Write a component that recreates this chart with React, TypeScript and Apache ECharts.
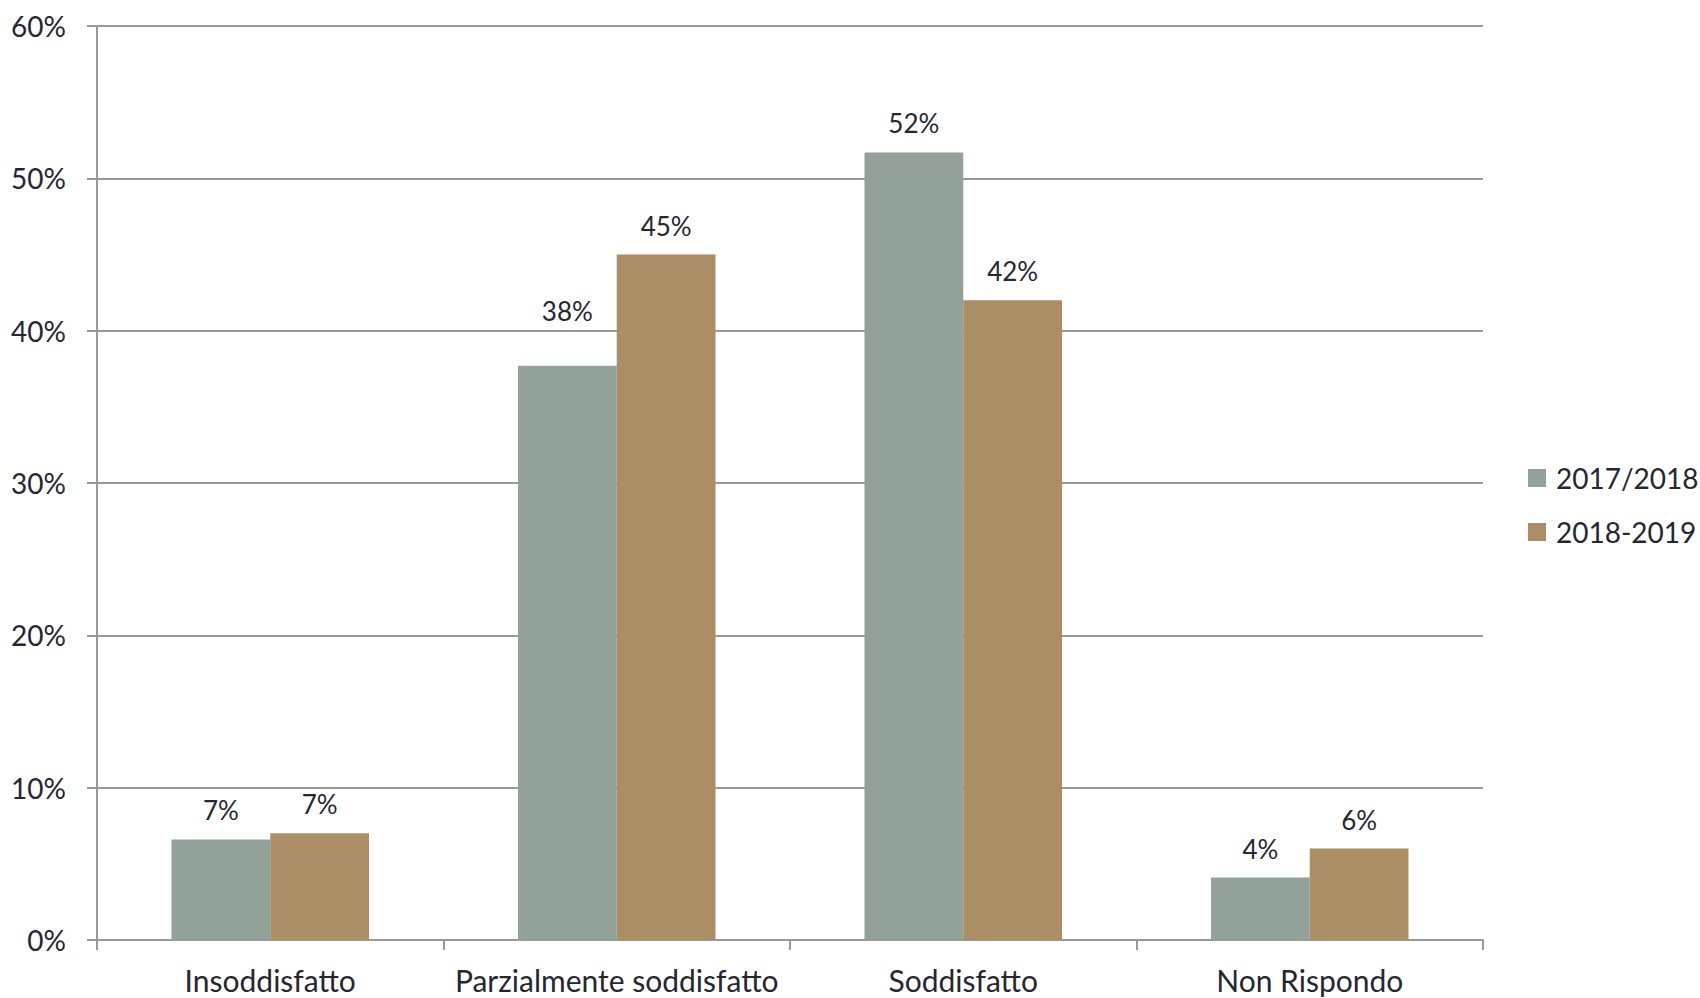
import React, { useEffect, useRef } from "react";
import * as echarts from "echarts";

const categories = ["Insoddisfatto", "Parzialmente soddisfatto", "Soddisfatto", "Non Rispondo"];
const seriesNames = ["2017/2018", "2018-2019"];
const values2017 = [6.6, 37.7, 51.7, 4.1];
const values2018 = [7.0, 45.0, 42.0, 6.0];
const colors = ["#92a299", "#ab8d66"];
const yTicks = [0, 10, 20, 30, 40, 50, 60];

const FONT = "Lato";
const TEXT = "#262631";

export default function App() {
  const ref = useRef<HTMLDivElement>(null);
  useEffect(() => {
    if (!ref.current) return;
    const chart = echarts.init(ref.current, null, { renderer: "svg" });
    const label = {
      show: true,
      position: "top",
      distance: 16,
      fontFamily: FONT,
      fontSize: 26,
      color: TEXT,
      formatter: (p: any) => `${Math.round(p.value)}%`,
    };
    // Excel lifted the "38%" label above the neighbouring bar's label line
    const data2017 = values2017.map((v, i) =>
      i === 1 ? { value: v, label: { distance: 42 } } : v
    );
    chart.setOption({
      animation: false,
      textStyle: { fontFamily: FONT },
      grid: { left: 97, right: 217, top: 26, bottom: 58, containLabel: false },
      legend: {
        orient: "vertical",
        left: 1523,
        top: 459,
        itemWidth: 18,
        itemHeight: 18,
        itemGap: 26,
        icon: "rect",
        textStyle: { fontFamily: FONT, fontSize: 28, color: TEXT, padding: [0, 0, 0, 5] },
        data: seriesNames,
      },
      xAxis: {
        type: "category",
        data: categories,
        axisLine: { show: true, lineStyle: { color: "#999999", width: 2 } },
        axisTick: { show: true, length: 10, lineStyle: { color: "#999999", width: 2 } },
        axisLabel: { interval: 0, margin: 25, fontFamily: FONT, fontSize: 30, color: TEXT },
      },
      yAxis: {
        type: "value",
        min: yTicks[0],
        max: yTicks[yTicks.length - 1],
        interval: 10,
        axisLine: { show: true, lineStyle: { color: "#999999", width: 2 } },
        axisTick: { show: true, length: 10, lineStyle: { color: "#999999", width: 2 } },
        splitLine: { show: true, lineStyle: { color: "#999999", width: 2 } },
        axisLabel: {
          margin: 31,
          fontFamily: FONT,
          fontSize: 28,
          color: TEXT,
          formatter: (v: number) => `${v}%`,
        },
      },
      series: [
        {
          name: seriesNames[0],
          type: "bar",
          data: data2017,
          itemStyle: { color: colors[0] },
          barGap: "0%",
          barCategoryGap: "43%",
          label,
        },
        {
          name: seriesNames[1],
          type: "bar",
          data: values2018,
          itemStyle: { color: colors[1] },
          barGap: "0%",
          barCategoryGap: "43%",
          label,
        },
      ],
    });
    return () => chart.dispose();
  }, []);
  return <div ref={ref} style={{ width: 1700, height: 998, position: "absolute", left: 0, top: 0 }} />;
}
